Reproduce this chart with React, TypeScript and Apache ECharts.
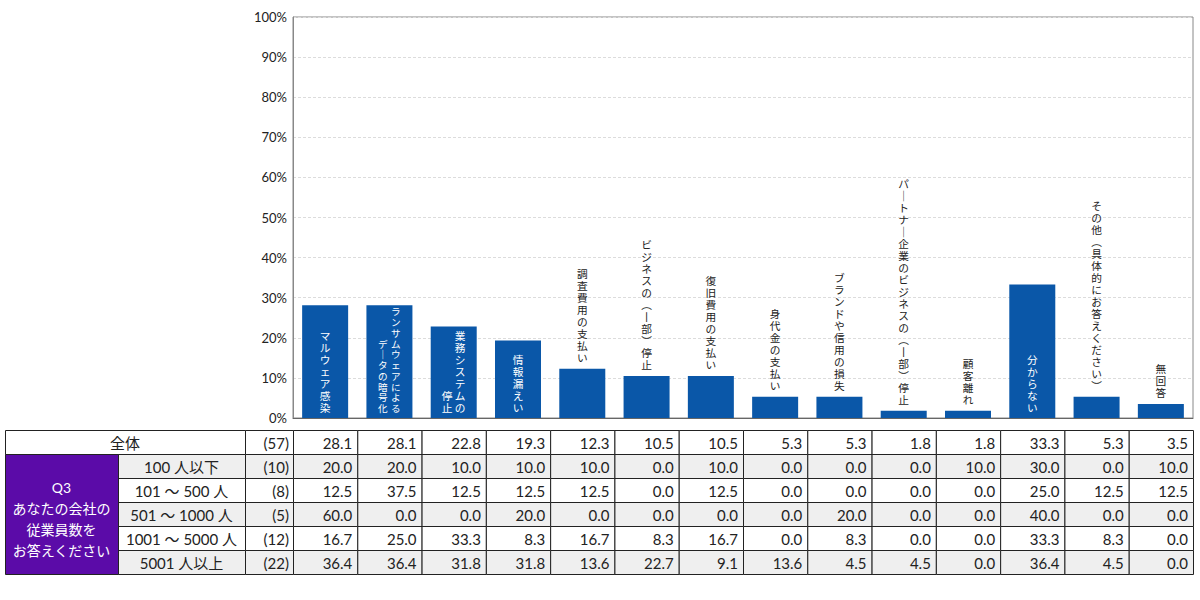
import { useEffect, useRef } from 'react'
import * as echarts from 'echarts'

const categories = [
  'マルウェア感染',
  'ランサムウェアによるデータの暗号化',
  '業務システムの停止',
  '情報漏えい',
  '調査費用の支払い',
  'ビジネスの(一部)停止',
  '復旧費用の支払い',
  '身代金の支払い',
  'ブランドや信用の損失',
  'パートナー企業のビジネスの(一部)停止',
  '顧客離れ',
  '分からない',
  'その他(具体的にお答えください)',
  '無回答',
]

// label columns, right-hand column first
const labelColumns = [
  ['マルウェア感染'],
  ['ランサムウェアによる', 'データの暗号化'],
  ['業務システムの', '停止'],
  ['情報漏えい'],
  ['調査費用の支払い'],
  ['ビジネスの(一部)停止'],
  ['復旧費用の支払い'],
  ['身代金の支払い'],
  ['ブランドや信用の損失'],
  ['パートナー企業のビジネスの(一部)停止'],
  ['顧客離れ'],
  ['分からない'],
  ['その他(具体的にお答えください)'],
  ['無回答'],
]

const totalLabel = '全体'
const totalN = 57
const totalValues = [28.1, 28.1, 22.8, 19.3, 12.3, 10.5, 10.5, 5.3, 5.3, 1.8, 1.8, 33.3, 5.3, 3.5]

const groupTitle = ['Q3', 'あなたの会社の', '従業員数を', 'お答えください']
const groupLabels = ['100 人以下', '101 〜 500 人', '501 〜 1000 人', '1001 〜 5000 人', '5001 人以上']
const groupN = [10, 8, 5, 12, 22]
const groupValues = [
  [20.0, 20.0, 10.0, 10.0, 10.0, 0.0, 10.0, 0.0, 0.0, 0.0, 10.0, 30.0, 0.0, 10.0],
  [12.5, 37.5, 12.5, 12.5, 12.5, 0.0, 12.5, 0.0, 0.0, 0.0, 0.0, 25.0, 12.5, 12.5],
  [60.0, 0.0, 0.0, 20.0, 0.0, 0.0, 0.0, 0.0, 20.0, 0.0, 0.0, 40.0, 0.0, 0.0],
  [16.7, 25.0, 33.3, 8.3, 16.7, 8.3, 16.7, 0.0, 8.3, 0.0, 0.0, 33.3, 8.3, 0.0],
  [36.4, 36.4, 31.8, 31.8, 13.6, 22.7, 9.1, 13.6, 4.5, 4.5, 0.0, 36.4, 4.5, 0.0],
]

const yTicks = [0, 10, 20, 30, 40, 50, 60, 70, 80, 90, 100]

const layout = {
  width: 1200,
  height: 600,
  plotLeft: 293,
  plotRight: 1193,
  plotTop: 17,
  plotBottom: 418,
  tableLeft: 5,
  groupRight: 118,
  labelRight: 245,
  tableTop: 430,
  rowHeight: 24,
}

const font = 'Lato, "Noto Sans CJK JP", sans-serif'
// tight-metric primary font keeps stacked glyph boxes from colliding; glyphs fall back to Noto
const stackFont = '"Liberation Sans", "Noto Sans CJK JP", sans-serif'
const barColor = '#0a57a8'
const purple = '#5b0ba8'
const stripe = '#efefef'
const lineColor = '#222'

function toVertical(text: string) {
  const map: Record<string, string> = { 'ー': '｜', '一': '丨', '(': '︵', ')': '︶' }
  return text
    .split('')
    .map((ch) => map[ch] ?? ch)
    .join('\n')
}

function textStyle(text: string, align: string, size: number, fill: string) {
  return {
    text,
    fill,
    fontSize: size,
    fontFamily: font,
    align,
    verticalAlign: 'middle',
    textAlign: align,
    textVerticalAlign: 'middle',
  }
}

function buildTable() {
  const els: any[] = []
  const colWidth = (layout.plotRight - layout.plotLeft) / categories.length
  const rowCount = 1 + groupLabels.length
  const cell = (x: number, y: number, w: number, h: number, fill: string) =>
    els.push({
      type: 'rect',
      silent: true,
      shape: { x: x + 0.5, y: y + 0.5, width: w, height: h },
      style: { fill, stroke: lineColor, lineWidth: 1 },
    })
  const label = (x: number, y: number, text: string, align: string, fill = '#222', size = 15) =>
    els.push({ type: 'text', silent: true, x, y, style: textStyle(text, align, size, fill) })

  for (let r = 0; r < rowCount; r++) {
    const y = layout.tableTop + r * layout.rowHeight
    const fill = r % 2 === 1 ? stripe : '#fff'
    const mid = y + layout.rowHeight / 2 + 1
    const n = r === 0 ? totalN : groupN[r - 1]
    const values = r === 0 ? totalValues : groupValues[r - 1]
    if (r === 0) {
      cell(layout.tableLeft, y, layout.labelRight - layout.tableLeft, layout.rowHeight, fill)
      label((layout.tableLeft + layout.labelRight) / 2, mid, totalLabel, 'center')
    } else {
      cell(layout.groupRight, y, layout.labelRight - layout.groupRight, layout.rowHeight, fill)
      label((layout.groupRight + layout.labelRight) / 2, mid, groupLabels[r - 1], 'center')
    }
    cell(layout.labelRight, y, layout.plotLeft - layout.labelRight, layout.rowHeight, fill)
    label(layout.plotLeft - 4, mid, `(${n})`, 'right')
    values.forEach((v, i) => {
      const x = layout.plotLeft + i * colWidth
      cell(x, y, colWidth, layout.rowHeight, fill)
      label(x + colWidth - 5, mid, v.toFixed(1), 'right')
    })
  }

  const groupTop = layout.tableTop + layout.rowHeight
  const groupHeight = groupLabels.length * layout.rowHeight
  cell(layout.tableLeft, groupTop, layout.groupRight - layout.tableLeft, groupHeight, purple)
  els.push({
    type: 'text',
    silent: true,
    x: (layout.tableLeft + layout.groupRight) / 2,
    y: groupTop + groupHeight / 2 + 5,
    style: { ...textStyle(groupTitle.join('\n'), 'center', 14, '#fff'), lineHeight: 21 },
  })
  return els
}

function buildOption() {
  return {
    animation: false,
    grid: {
      left: layout.plotLeft,
      right: layout.width - layout.plotRight,
      top: layout.plotTop,
      bottom: layout.height - layout.plotBottom,
      show: true,
      borderColor: '#888',
      borderWidth: 1,
      containLabel: false,
    },
    xAxis: {
      type: 'category',
      data: categories,
      axisLine: { lineStyle: { color: '#666', width: 1 } },
      axisTick: { show: false },
      axisLabel: { show: false },
    },
    yAxis: {
      type: 'value',
      min: yTicks[0],
      max: yTicks[yTicks.length - 1],
      interval: yTicks[1] - yTicks[0],
      axisLine: { show: true, lineStyle: { color: '#888' } },
      axisTick: { show: false },
      axisLabel: {
        formatter: '{value}%',
        color: '#222',
        fontSize: 13,
        fontFamily: font,
        margin: 6,
      },
      splitLine: { lineStyle: { color: '#dcdcdc', type: [3, 2], width: 1 } },
    },
    series: [
      {
        type: 'bar',
        data: totalValues,
        barWidth: 46,
        itemStyle: { color: barColor },
        silent: true,
      },
      {
        type: 'custom',
        silent: true,
        data: totalValues.map((v, i) => [i, v]),
        encode: { x: 0, y: 1 },
        z: 5,
        renderItem: (_params: any, api: any) => {
          const idx = api.value(0)
          const value = api.value(1)
          const inside = value >= 15
          const base = api.coord([idx, 0])
          const top = api.coord([idx, value])
          const cols = labelColumns[idx]
          const longest = Math.max(...cols.map((c) => c.length))
          const lh = inside ? Math.min(12, (base[1] - top[1] - 5) / longest) : 12
          const size = Math.min(11, lh / 1.12)
          const y = inside ? base[1] - 4 : top[1] - 5
          return {
            type: 'group',
            children: cols.map((col, j) => ({
              type: 'text',
              style: {
                x: base[0] + ((cols.length - 1) / 2 - j) * 13,
                y,
                text: toVertical(col),
                fill: inside ? '#fff' : '#222',
                fontSize: size,
                fontFamily: stackFont,
                lineHeight: lh,
                align: 'center',
                verticalAlign: 'bottom',
                textAlign: 'center',
                textVerticalAlign: 'bottom',
              },
            })),
          }
        },
      },
    ],
    graphic: { elements: buildTable() },
  }
}

export default function App() {
  const ref = useRef<HTMLDivElement>(null)

  useEffect(() => {
    const el = ref.current
    if (!el) return
    const chart = echarts.init(el, null, { renderer: 'svg' })
    chart.setOption(buildOption())
    return () => chart.dispose()
  }, [])

  return (
    <div
      ref={ref}
      style={{
        position: 'absolute',
        left: 0,
        top: 0,
        width: layout.width,
        height: layout.height,
        background: '#fff',
      }}
    />
  )
}
